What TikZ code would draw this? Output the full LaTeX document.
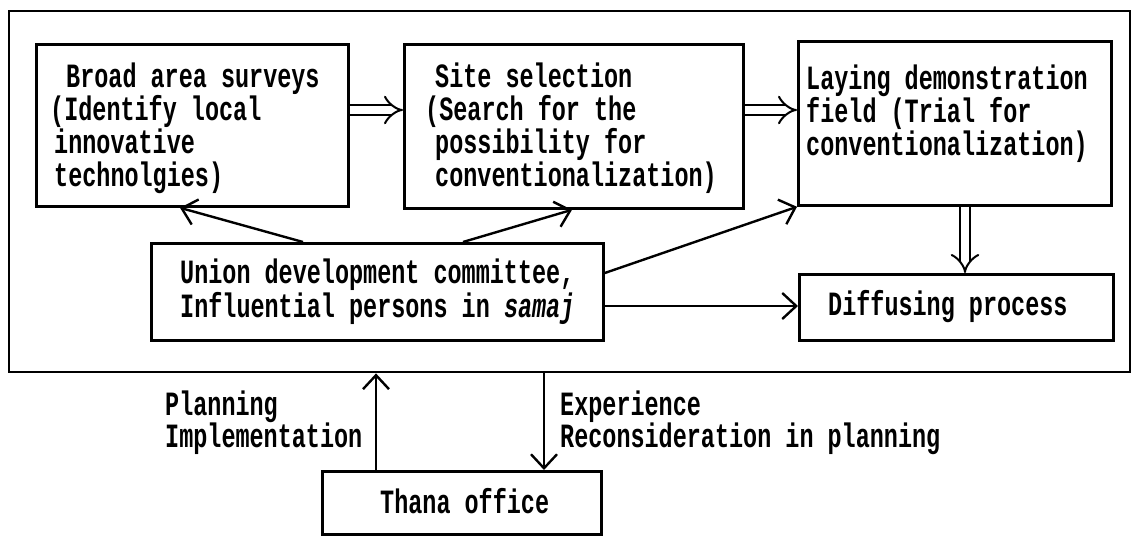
\documentclass[tikz,border=0pt]{standalone}
\usepackage{fontspec}
\newfontfamily\mono[FakeStretch=0.69]{Liberation Mono}
\usetikzlibrary{arrows.meta,calc}
\newcommand\mltext[2]{\parbox[t]{#1}{\raggedright #2}}
\tikzset{
  frame/.style={draw, line width=2.4pt, inner sep=0pt, anchor=north west},
  box/.style={draw, line width=2.8pt, inner sep=0pt, anchor=north west},
  txt/.style={inner sep=0pt, anchor=base west, font=\mono\bfseries\fontsize{34}{33}\selectfont},
  arr/.style={line width=2.4pt, -{Straight Barb[length=14pt,width=26pt]}},
  darr/.style={double, double distance=8pt, line width=2pt, -{Implies[length=16pt,width=32pt]}},
}
\begin{document}
\begin{tikzpicture}[x=1pt,y=1pt]
\useasboundingbox (0,0) rectangle (1131,-535);
% outer frame
\node[frame, minimum width=1121pt, minimum height=361pt] (fr) at (7.5,-10) {};
% boxes
\node[box, minimum width=312pt, minimum height=162pt] (b1) at (35,-43) {};
\node[box, minimum width=339pt, minimum height=164pt] (b2) at (403,-43) {};
\node[box, minimum width=313pt, minimum height=164pt] (b3) at (797,-40) {};
\node[box, minimum width=452pt, minimum height=97pt] (un) at (150,-242) {};
\node[box, minimum width=314pt, minimum height=66pt] (df) at (798,-273) {};
\node[box, minimum width=279pt, minimum height=63pt] (th) at (321,-470) {};
% texts
\node[txt] (b1t) at (50,-87) {\mltext{300pt}{\hspace*{16pt}Broad area surveys\\(Identify local\\\hspace*{4pt}innovative\\\hspace*{4pt}technolgies)}};
\node[txt] (b2t) at (425,-87) {\mltext{320pt}{\hspace*{10pt}Site selection\\(Search for the\\\hspace*{10pt}possibility for\\\hspace*{10pt}conventionalization)}};
\node[txt, font=\mono\bfseries\fontsize{34}{29.5}\selectfont] (b3t) at (806,-89) {\mltext{310pt}{Laying demonstration\\field (Trial for\\conventionalization)}};
\node[txt, font=\mono\bfseries\fontsize{34}{34}\selectfont] (unt) at (180,-283) {\mltext{440pt}{Union development committee,\\Influential persons in {\itshape samaj}}};
\node[txt] (dft) at (828,-315) {Diffusing process};
\node[txt] (tht) at (380,-513) {Thana office};
\node[txt, font=\mono\bfseries\fontsize{34}{32}\selectfont] (pl) at (165,-415) {\mltext{250pt}{Planning\\Implementation}};
\node[txt, font=\mono\bfseries\fontsize{34}{32}\selectfont] (ex) at (560,-415) {\mltext{450pt}{Experience\\Reconsideration in planning}};
% double arrows
\draw[darr] (b1.east |- 0,-110) -- (b2.west |- 0,-110);
\draw[darr] (b2.east |- 0,-110) -- (b3.west |- 0,-110);
\draw[darr] (b3.south -| 965,0) -- (df.north -| 965,0);
% single arrows
\draw[arr] (un.north -| 303,0) -- (b1.south -| 180,0);
\draw[arr] (un.north -| 463,0) -- (b2.south -| 572,0);
\draw[arr] (un.east |- 0,-273) -- (b3.south west);
\draw[arr] (un.east |- 0,-306) -- (df.west |- 0,-306);
\draw[arr] (th.north -| 376,0) -- (fr.south -| 376,0);
\draw[arr] (fr.south -| 544,0) -- (th.north -| 544,0);
\end{tikzpicture}
\end{document}
